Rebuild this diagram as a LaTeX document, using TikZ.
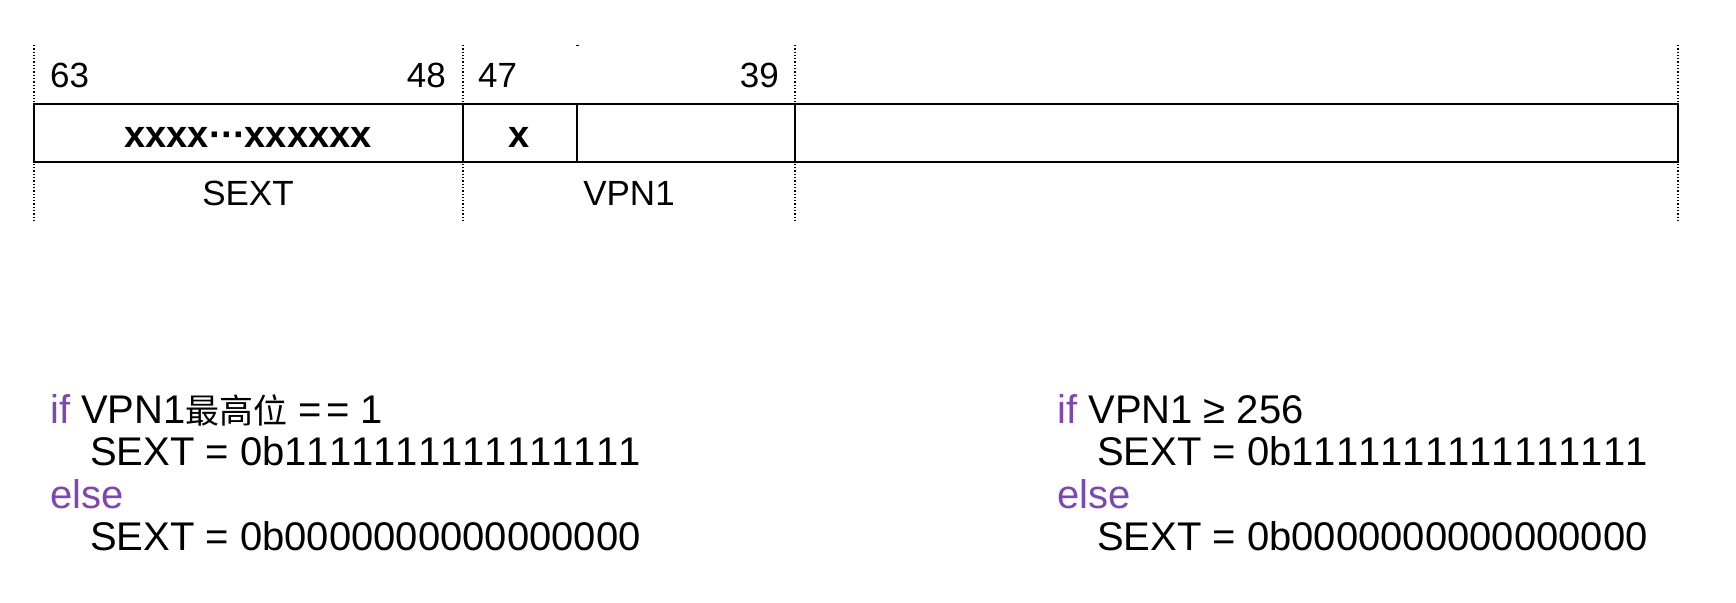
\documentclass[tikz,border=0pt]{standalone}
\usepackage{fontspec}
\setmainfont{Liberation Sans}[Kerning=Off]
\newfontfamily\cjk{Noto Sans CJK SC}
\definecolor{kw}{RGB}{125,70,180}
\begin{document}
\begin{tikzpicture}[x=1pt,y=-1pt,
  lbl/.style={inner sep=0pt,font=\fontsize{35}{42}\selectfont},
  bold/.style={inner sep=0pt,font=\fontsize{38}{44}\bfseries\selectfont},
  code/.style={inner sep=0pt,anchor=base west,font=\fontsize{40}{48}\selectfont},
  guide/.style={line width=1.3pt,dotted},
  frame/.style={line width=2pt},
  cell/.style={line width=1.5pt}]
\useasboundingbox (0,0) rectangle (1736,602);
% guides
\coordinate (g1t) at (34,45);  \coordinate (g1b) at (34,221);
\coordinate (g2t) at (463,45); \coordinate (g2b) at (463,221);
\coordinate (g3t) at (795,45); \coordinate (g3b) at (795,221);
\coordinate (g4t) at (1678,45);\coordinate (g4b) at (1678,221);
\draw[guide] (g1t) -- (g1b);
\draw[guide] (g2t) -- (g2b);
\draw[guide] (g3t) -- (g3b);
\draw[guide] (g4t) -- (g4b);
\coordinate (m1) at (575.5,46); \coordinate (m2) at (578.5,46);
\draw[line width=1pt] (m1) -- (m2);
% register box
\coordinate (bx1) at (34,104); \coordinate (bx2) at (1678,162);
\draw[frame] (bx1) rectangle (bx2);
\coordinate (d2t) at (463,104); \coordinate (d2b) at (463,162);
\coordinate (d3t) at (577,104); \coordinate (d3b) at (577,162);
\coordinate (d4t) at (795,104); \coordinate (d4b) at (795,162);
\draw[cell] (d2t) -- (d2b);
\draw[cell] (d3t) -- (d3b);
\draw[cell] (d4t) -- (d4b);
% bit numbers
\node[lbl,anchor=base west] (b63) at (50,87) {63};
\node[lbl,anchor=base east] (b48) at (446,87) {48};
\node[lbl,anchor=base west] (b47) at (478,87) {47};
\node[lbl,anchor=base east] (b39) at (779,87) {39};
% cell contents
\node[bold,anchor=base] (sx) at (248,147) {xxxx\kern1pt·\kern-1pt·\kern-1pt·\kern-1pt xxxxxx};
\node[bold,anchor=base] (x1) at (519,147) {x};
% field names
\node[lbl,anchor=base] (fs) at (248,205) {SEXT};
\node[lbl,anchor=base] (fv) at (629,205) {VPN1};
% left code
\node[code] (l1) at (50,423) {\textcolor{kw}{if} VPN1{\cjk\fontsize{34}{40}\selectfont 最高位} =\kern4pt= 1};
\node[code] (l2) at (90,465) {SEXT = 0b1111111111111111};
\node[code] (l3) at (50,508) {\textcolor{kw}{else}};
\node[code] (l4) at (90,550) {SEXT = 0b0000000000000000};
% right code
\node[code] (r1) at (1057,423) {\textcolor{kw}{if} VPN1 ≥ 256};
\node[code] (r2) at (1097,465) {SEXT = 0b1111111111111111};
\node[code] (r3) at (1057,508) {\textcolor{kw}{else}};
\node[code] (r4) at (1097,550) {SEXT = 0b0000000000000000};
\end{tikzpicture}
\end{document}
